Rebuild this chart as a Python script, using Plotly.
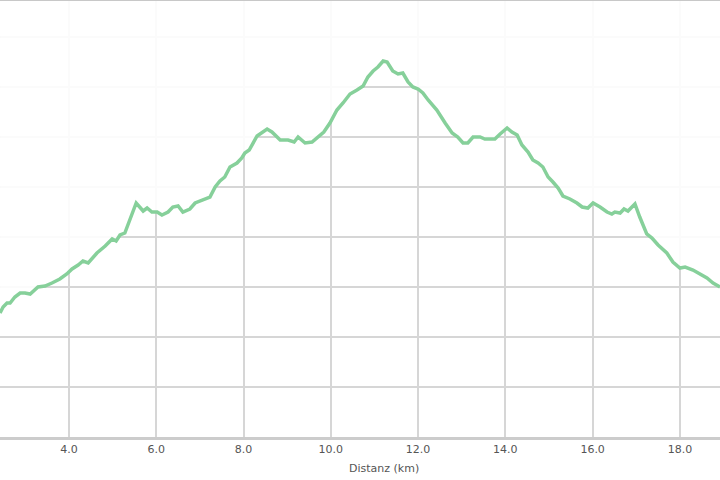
import plotly.graph_objects as go

# elevation profile
distance_km = [
    2.42, 2.49, 2.58, 2.65, 2.76, 2.88, 2.99, 3.11, 3.29, 3.45, 3.61, 3.79, 3.95,
    4.07, 4.21, 4.32, 4.44, 4.64, 4.83, 4.99, 5.08, 5.17, 5.28, 5.40, 5.54, 5.70,
    5.79, 5.90, 6.02, 6.13, 6.27, 6.38, 6.50, 6.61, 6.77, 6.89, 7.07, 7.23, 7.35,
    7.46, 7.57, 7.69, 7.85, 7.96, 8.03, 8.13, 8.31, 8.45, 8.54, 8.65, 8.84, 9.02,
    9.16, 9.25, 9.41, 9.57, 9.71, 9.84, 9.98, 10.14, 10.28, 10.44, 10.60, 10.74,
    10.85, 10.97, 11.08, 11.20, 11.29, 11.42, 11.54, 11.65, 11.77, 11.88, 12.00,
    12.11, 12.23, 12.43, 12.62, 12.78, 12.91, 13.03, 13.14, 13.26, 13.42, 13.53,
    13.65, 13.76, 13.88, 14.04, 14.15, 14.27, 14.38, 14.52, 14.63, 14.75, 14.86,
    14.98, 15.09, 15.21, 15.32, 15.48, 15.64, 15.76, 15.89, 16.01, 16.17, 16.33,
    16.44, 16.51, 16.63, 16.72, 16.81, 16.97, 17.08, 17.24, 17.36, 17.50, 17.70,
    17.84, 18.00, 18.12, 18.30, 18.46, 18.62, 18.76, 18.92,
]
elevation_m = [
    648, 660, 668, 668, 680, 688, 688, 686, 700, 702, 708, 716, 726,
    736, 744, 752, 748, 768, 782, 796, 792, 804, 808, 834, 868, 852,
    858, 850, 850, 844, 850, 860, 862, 850, 856, 868, 874, 880, 900,
    912, 920, 940, 948, 958, 968, 974, 1002, 1010, 1016, 1010, 994, 994,
    990, 1000, 988, 990, 1000, 1010, 1028, 1054, 1068, 1086, 1094, 1102,
    1120, 1132, 1140, 1152, 1150, 1132, 1126, 1128, 1110, 1100, 1096,
    1088, 1074, 1054, 1028, 1008, 1000, 988, 988, 1000, 1000, 996,
    996, 996, 1006, 1018, 1010, 1004, 984, 970, 954, 948, 940,
    920, 910, 898, 882, 876, 868, 860, 858, 868, 860, 850,
    846, 850, 848, 856, 852, 866, 840, 806, 798, 784, 768,
    750, 738, 740, 734, 726, 718, 708, 700,
]

x_range = [2.419, 18.919]
y_range = [400, 1274]
x_title = "Distanz (km)"

fig = go.Figure()

# invisible line along the top, so the area above the profile can be washed out
fig.add_trace(go.Scatter(
    x=distance_km, y=[y_range[1]] * len(distance_km),
    mode="lines", line=dict(width=0), hoverinfo="skip", showlegend=False))

fig.add_trace(go.Scatter(
    x=distance_km, y=elevation_m, mode="lines",
    line=dict(color="rgb(134,208,154)", width=3.5),
    fill="tonexty", fillcolor="rgba(255,255,255,0.9)",
    showlegend=False))

fig.update_layout(
    width=720, height=480,
    margin=dict(l=0, r=0, t=0, b=43),
    paper_bgcolor="white", plot_bgcolor="white",
    font=dict(family="DejaVu Sans", size=11, color="#555555"),
    shapes=[dict(type="line", xref="paper", yref="paper", x0=0, x1=1, y0=1, y1=1,
                 line=dict(color="#c8c8c8", width=2))],
    # axis title sits a bit right of centre (the original had a y axis cropped off)
    annotations=[dict(text=x_title, xref="paper", yref="paper", x=0.534, y=-0.071,
                      xanchor="center", yanchor="middle", showarrow=False,
                      font=dict(size=11, color="#555555"))],
)
fig.update_xaxes(
    range=x_range, dtick=2, tick0=0, tickformat=".1f",
    showgrid=True, gridcolor="#d6d6d6", gridwidth=1.5,
    showline=True, linecolor="#cccccc", linewidth=3,
    zeroline=False, ticks="", ticklen=0,
)
fig.update_yaxes(
    range=y_range, dtick=100, tick0=0,
    showgrid=True, gridcolor="#d6d6d6", gridwidth=1.5,
    showticklabels=False, zeroline=False, showline=False,
)

# drop the browser's default body margin so the chart sits flush in the window
fig.write_html("out.html", config={"displayModeBar": False},
               post_script="document.body.style.margin='0';")
